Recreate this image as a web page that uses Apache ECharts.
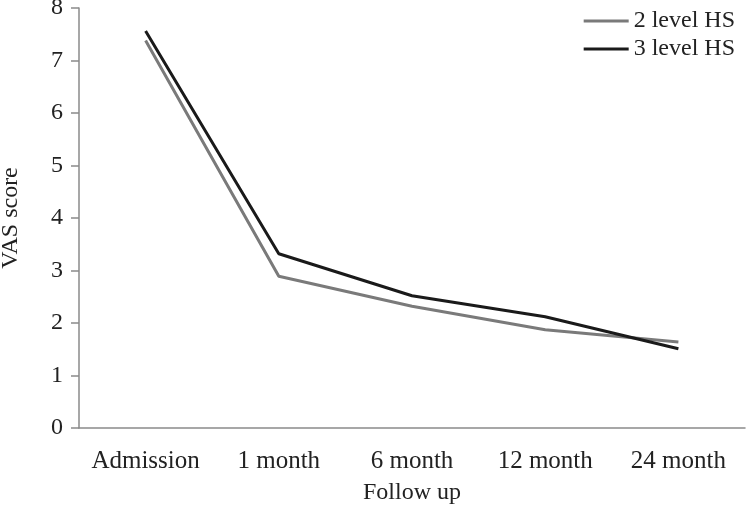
<!DOCTYPE html>
<html><head><meta charset="utf-8">
<script src="https://cdn.jsdelivr.net/npm/echarts@6/dist/echarts.min.js"></script>
<style>html,body{margin:0;padding:0;background:#fff}#c{width:746px;height:512px}</style>
</head><body><div id="c"></div>
<script>
var categories = ['Admission', '1 month', '6 month', '12 month', '24 month'];
var level2 = [7.38, 2.89, 2.32, 1.87, 1.64];
var level3 = [7.56, 3.32, 2.52, 2.12, 1.51];
var yTicks = [0, 1, 2, 3, 4, 5, 6, 7, 8];

var FONT = 'Liberation Serif';
var chart = echarts.init(document.getElementById('c'));
chart.setOption({
  backgroundColor: '#fff',
  animation: false,
  textStyle: { fontFamily: FONT },
  grid: { left: 79, right: 1, top: 8, bottom: 84, containLabel: false, outerBoundsMode: 'none' },
  legend: {
    orient: 'vertical', right: 6, top: 4, itemGap: 4,
    itemWidth: 45, itemHeight: 3, icon: 'rect',
    textStyle: { fontFamily: FONT, fontSize: 24, color: '#222' },
    data: [
      { name: '2 level HS', itemStyle: { color: '#7a7a7a' } },
      { name: '3 level HS', itemStyle: { color: '#1a1a1a' } }
    ]
  },
  xAxis: {
    type: 'category', data: categories, boundaryGap: true,
    name: 'Follow up', nameLocation: 'middle', nameGap: 53,
    nameTextStyle: { fontFamily: FONT, fontSize: 24, color: '#222' },
    axisLine: { lineStyle: { color: '#8a8a8a', width: 1.5 } },
    axisTick: { alignWithLabel: true, length: 9, lineStyle: { color: '#8a8a8a', width: 1.5 } },
    axisLabel: { fontFamily: FONT, fontSize: 25, color: '#222', margin: 21, interval: 0 },
    splitLine: { show: false }
  },
  yAxis: {
    type: 'value', min: yTicks[0], max: yTicks[yTicks.length - 1], interval: 1,
    name: 'VAS score', nameLocation: 'middle', nameGap: 56, nameRotate: 90,
    nameTextStyle: { fontFamily: FONT, fontSize: 24, color: '#222' },
    axisLine: { show: true, lineStyle: { color: '#8a8a8a', width: 1.5 } },
    axisTick: { show: true, length: 8, lineStyle: { color: '#8a8a8a', width: 1.5 } },
    axisLabel: { fontFamily: FONT, fontSize: 24, color: '#222', margin: 16 },
    splitLine: { show: false }
  },
  series: [
    { name: '2 level HS', type: 'line', data: level2, symbol: 'none',
      lineStyle: { color: '#7a7a7a', width: 3 }, itemStyle: { color: '#7a7a7a' } },
    { name: '3 level HS', type: 'line', data: level3, symbol: 'none',
      lineStyle: { color: '#1a1a1a', width: 3 }, itemStyle: { color: '#1a1a1a' } }
  ]
});
</script></body></html>
